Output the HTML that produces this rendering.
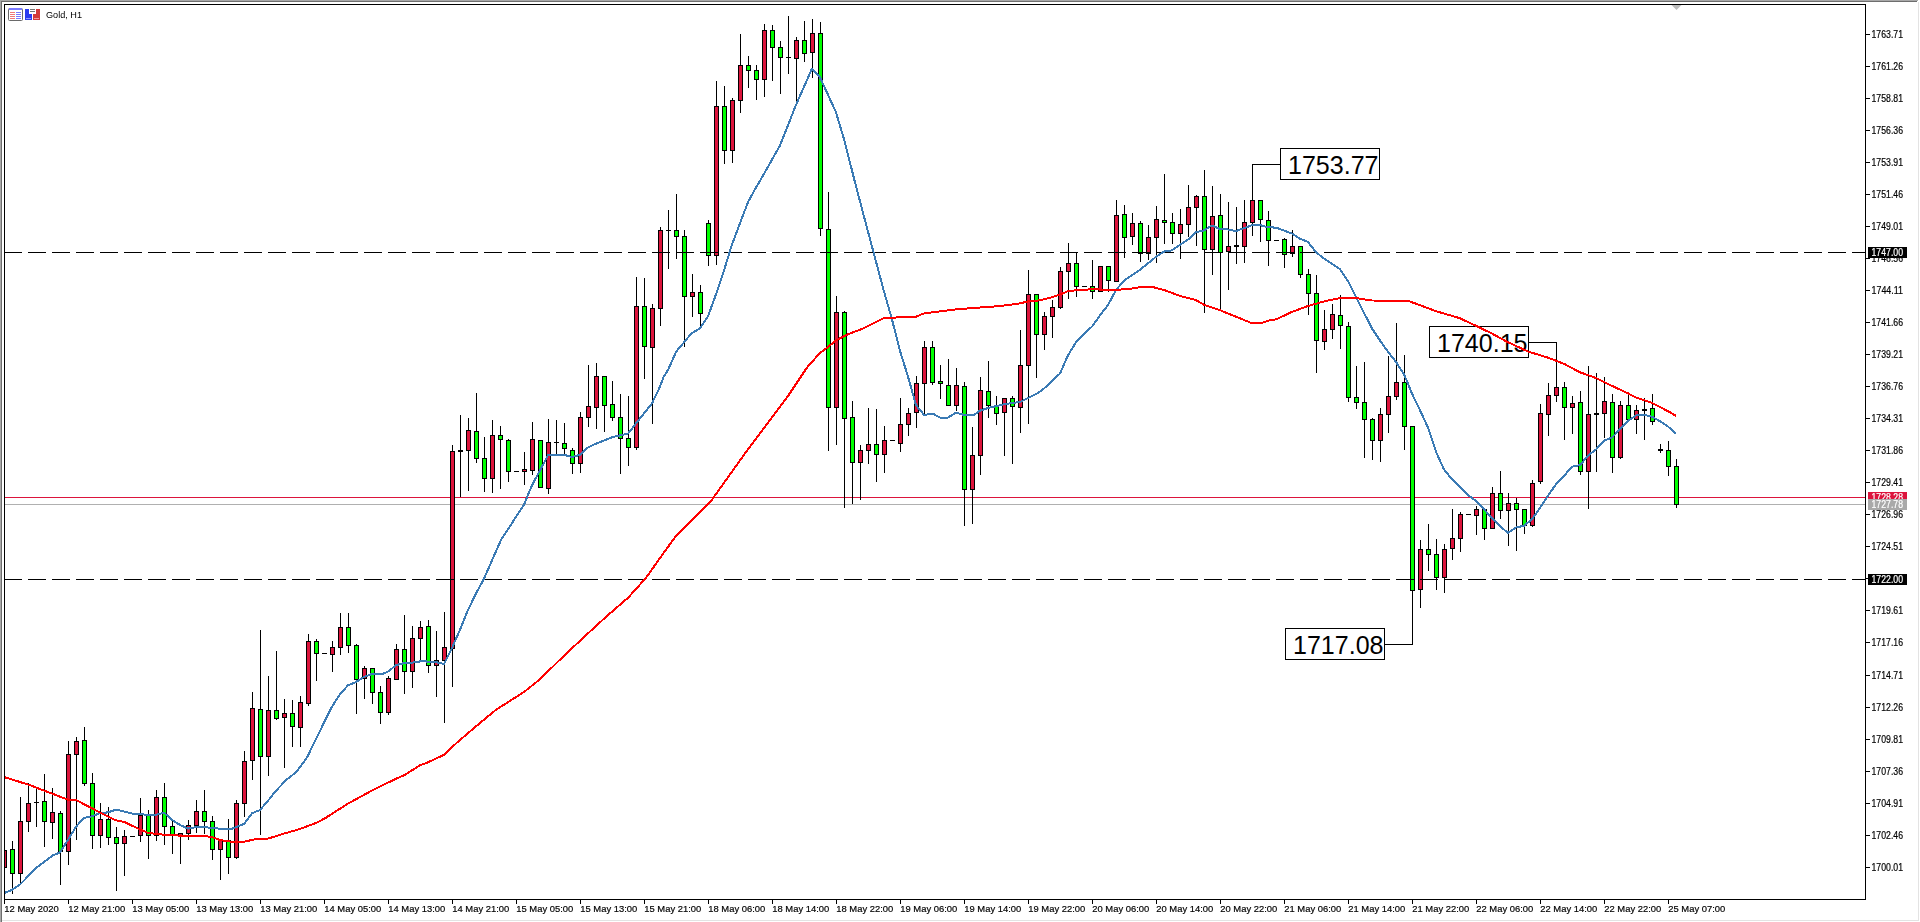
<!DOCTYPE html>
<html><head><meta charset="utf-8"><title>Gold, H1</title>
<style>html,body{margin:0;padding:0;background:#fff;overflow:hidden}body{width:1920px;height:922px;position:relative;font-family:"Liberation Sans",sans-serif}svg{position:absolute;left:0;top:0;display:block}text{font-family:"Liberation Sans",sans-serif}.ax{font-size:10px;fill:#000;stroke:#000;stroke-width:.2px}.big{font-size:26px;fill:#000}</style>
</head><body>
<svg width="1920" height="922" viewBox="0 0 1920 922">
<rect x="0" y="0" width="1920" height="922" fill="#fff"/>
<g shape-rendering="crispEdges">
<rect x="0" y="0" width="1918" height="1" fill="#a8a8a8"/>
<rect x="0" y="1" width="1917" height="1" fill="#6e6e6e"/>
<rect x="0" y="0" width="1" height="922" fill="#a8a8a8"/>
<rect x="1" y="1" width="1" height="921" fill="#6e6e6e"/>
<rect x="1918" y="2" width="1" height="919" fill="#e3e3e3"/>
<rect x="2" y="920" width="1917" height="1" fill="#e3e3e3"/>
<rect x="5" y="497" width="1860" height="1" fill="#dc143c"/>
<rect x="5" y="504" width="1860" height="1" fill="#b0b0b0"/>
</g>
<g shape-rendering="crispEdges" clip-path="url(#cp)">
<defs><clipPath id="cp"><rect x="5" y="5" width="1860" height="894"/></clipPath></defs>
<rect x="4" y="850" width="1" height="17" fill="#000"/>
<rect x="2" y="850" width="5" height="18" fill="#000"/>
<rect x="3" y="851" width="3" height="16" fill="#dc143c"/>
<rect x="12" y="841" width="1" height="53" fill="#000"/>
<rect x="10" y="849" width="5" height="25" fill="#000"/>
<rect x="11" y="850" width="3" height="23" fill="#00ff00"/>
<rect x="20" y="797" width="1" height="86" fill="#000"/>
<rect x="18" y="821" width="5" height="53" fill="#000"/>
<rect x="19" y="822" width="3" height="51" fill="#dc143c"/>
<rect x="28" y="783" width="1" height="49" fill="#000"/>
<rect x="26" y="803" width="5" height="19" fill="#000"/>
<rect x="27" y="804" width="3" height="17" fill="#dc143c"/>
<rect x="36" y="789" width="1" height="38" fill="#000"/>
<rect x="34" y="802" width="5" height="1" fill="#000"/>
<rect x="44" y="774" width="1" height="73" fill="#000"/>
<rect x="42" y="801" width="5" height="21" fill="#000"/>
<rect x="43" y="802" width="3" height="19" fill="#00ff00"/>
<rect x="52" y="788" width="1" height="51" fill="#000"/>
<rect x="50" y="812" width="5" height="11" fill="#000"/>
<rect x="51" y="813" width="3" height="9" fill="#dc143c"/>
<rect x="60" y="811" width="1" height="74" fill="#000"/>
<rect x="58" y="813" width="5" height="39" fill="#000"/>
<rect x="59" y="814" width="3" height="37" fill="#00ff00"/>
<rect x="68" y="741" width="1" height="124" fill="#000"/>
<rect x="66" y="754" width="5" height="98" fill="#000"/>
<rect x="67" y="755" width="3" height="96" fill="#dc143c"/>
<rect x="76" y="737" width="1" height="103" fill="#000"/>
<rect x="74" y="741" width="5" height="14" fill="#000"/>
<rect x="75" y="742" width="3" height="12" fill="#dc143c"/>
<rect x="84" y="727" width="1" height="59" fill="#000"/>
<rect x="82" y="740" width="5" height="44" fill="#000"/>
<rect x="83" y="741" width="3" height="42" fill="#00ff00"/>
<rect x="92" y="773" width="1" height="76" fill="#000"/>
<rect x="90" y="783" width="5" height="53" fill="#000"/>
<rect x="91" y="784" width="3" height="51" fill="#00ff00"/>
<rect x="100" y="803" width="1" height="45" fill="#000"/>
<rect x="98" y="819" width="5" height="17" fill="#000"/>
<rect x="99" y="820" width="3" height="15" fill="#dc143c"/>
<rect x="108" y="807" width="1" height="38" fill="#000"/>
<rect x="106" y="819" width="5" height="19" fill="#000"/>
<rect x="107" y="820" width="3" height="17" fill="#00ff00"/>
<rect x="116" y="827" width="1" height="64" fill="#000"/>
<rect x="114" y="837" width="5" height="7" fill="#000"/>
<rect x="115" y="838" width="3" height="5" fill="#00ff00"/>
<rect x="124" y="830" width="1" height="46" fill="#000"/>
<rect x="122" y="836" width="5" height="8" fill="#000"/>
<rect x="123" y="837" width="3" height="6" fill="#dc143c"/>
<rect x="130" y="836" width="5" height="1" fill="#000"/>
<rect x="140" y="798" width="1" height="44" fill="#000"/>
<rect x="138" y="815" width="5" height="21" fill="#000"/>
<rect x="139" y="816" width="3" height="19" fill="#dc143c"/>
<rect x="148" y="810" width="1" height="49" fill="#000"/>
<rect x="146" y="815" width="5" height="21" fill="#000"/>
<rect x="147" y="816" width="3" height="19" fill="#00ff00"/>
<rect x="156" y="790" width="1" height="51" fill="#000"/>
<rect x="154" y="797" width="5" height="39" fill="#000"/>
<rect x="155" y="798" width="3" height="37" fill="#dc143c"/>
<rect x="164" y="783" width="1" height="62" fill="#000"/>
<rect x="162" y="797" width="5" height="30" fill="#000"/>
<rect x="163" y="798" width="3" height="28" fill="#00ff00"/>
<rect x="172" y="820" width="1" height="34" fill="#000"/>
<rect x="170" y="826" width="5" height="10" fill="#000"/>
<rect x="171" y="827" width="3" height="8" fill="#00ff00"/>
<rect x="180" y="833" width="1" height="31" fill="#000"/>
<rect x="178" y="833" width="5" height="4" fill="#000"/>
<rect x="179" y="834" width="3" height="2" fill="#dc143c"/>
<rect x="188" y="820" width="1" height="20" fill="#000"/>
<rect x="186" y="825" width="5" height="9" fill="#000"/>
<rect x="187" y="826" width="3" height="7" fill="#dc143c"/>
<rect x="196" y="800" width="1" height="33" fill="#000"/>
<rect x="194" y="811" width="5" height="15" fill="#000"/>
<rect x="195" y="812" width="3" height="13" fill="#dc143c"/>
<rect x="204" y="790" width="1" height="44" fill="#000"/>
<rect x="202" y="811" width="5" height="11" fill="#000"/>
<rect x="203" y="812" width="3" height="9" fill="#00ff00"/>
<rect x="212" y="816" width="1" height="44" fill="#000"/>
<rect x="210" y="821" width="5" height="29" fill="#000"/>
<rect x="211" y="822" width="3" height="27" fill="#00ff00"/>
<rect x="220" y="839" width="1" height="41" fill="#000"/>
<rect x="218" y="839" width="5" height="11" fill="#000"/>
<rect x="219" y="840" width="3" height="9" fill="#dc143c"/>
<rect x="228" y="819" width="1" height="55" fill="#000"/>
<rect x="226" y="840" width="5" height="18" fill="#000"/>
<rect x="227" y="841" width="3" height="16" fill="#00ff00"/>
<rect x="236" y="800" width="1" height="59" fill="#000"/>
<rect x="234" y="803" width="5" height="55" fill="#000"/>
<rect x="235" y="804" width="3" height="53" fill="#dc143c"/>
<rect x="244" y="751" width="1" height="66" fill="#000"/>
<rect x="242" y="761" width="5" height="43" fill="#000"/>
<rect x="243" y="762" width="3" height="41" fill="#dc143c"/>
<rect x="252" y="692" width="1" height="88" fill="#000"/>
<rect x="250" y="708" width="5" height="53" fill="#000"/>
<rect x="251" y="709" width="3" height="51" fill="#dc143c"/>
<rect x="260" y="630" width="1" height="205" fill="#000"/>
<rect x="258" y="709" width="5" height="48" fill="#000"/>
<rect x="259" y="710" width="3" height="46" fill="#00ff00"/>
<rect x="268" y="676" width="1" height="100" fill="#000"/>
<rect x="266" y="710" width="5" height="47" fill="#000"/>
<rect x="267" y="711" width="3" height="45" fill="#dc143c"/>
<rect x="276" y="651" width="1" height="69" fill="#000"/>
<rect x="274" y="710" width="5" height="9" fill="#000"/>
<rect x="275" y="711" width="3" height="7" fill="#00ff00"/>
<rect x="284" y="699" width="1" height="69" fill="#000"/>
<rect x="282" y="713" width="5" height="5" fill="#000"/>
<rect x="283" y="714" width="3" height="3" fill="#dc143c"/>
<rect x="292" y="700" width="1" height="47" fill="#000"/>
<rect x="290" y="713" width="5" height="14" fill="#000"/>
<rect x="291" y="714" width="3" height="12" fill="#00ff00"/>
<rect x="300" y="696" width="1" height="51" fill="#000"/>
<rect x="298" y="702" width="5" height="26" fill="#000"/>
<rect x="299" y="703" width="3" height="24" fill="#dc143c"/>
<rect x="308" y="634" width="1" height="72" fill="#000"/>
<rect x="306" y="641" width="5" height="63" fill="#000"/>
<rect x="307" y="642" width="3" height="61" fill="#dc143c"/>
<rect x="316" y="639" width="1" height="42" fill="#000"/>
<rect x="314" y="641" width="5" height="13" fill="#000"/>
<rect x="315" y="642" width="3" height="11" fill="#00ff00"/>
<rect x="322" y="653" width="5" height="1" fill="#000"/>
<rect x="332" y="641" width="1" height="31" fill="#000"/>
<rect x="330" y="647" width="5" height="8" fill="#000"/>
<rect x="331" y="648" width="3" height="6" fill="#dc143c"/>
<rect x="340" y="613" width="1" height="42" fill="#000"/>
<rect x="338" y="627" width="5" height="21" fill="#000"/>
<rect x="339" y="628" width="3" height="19" fill="#dc143c"/>
<rect x="348" y="613" width="1" height="40" fill="#000"/>
<rect x="346" y="627" width="5" height="19" fill="#000"/>
<rect x="347" y="628" width="3" height="17" fill="#00ff00"/>
<rect x="356" y="644" width="1" height="70" fill="#000"/>
<rect x="354" y="645" width="5" height="35" fill="#000"/>
<rect x="355" y="646" width="3" height="33" fill="#00ff00"/>
<rect x="364" y="666" width="1" height="33" fill="#000"/>
<rect x="362" y="668" width="5" height="11" fill="#000"/>
<rect x="363" y="669" width="3" height="9" fill="#dc143c"/>
<rect x="372" y="668" width="1" height="36" fill="#000"/>
<rect x="370" y="668" width="5" height="25" fill="#000"/>
<rect x="371" y="669" width="3" height="23" fill="#00ff00"/>
<rect x="380" y="686" width="1" height="38" fill="#000"/>
<rect x="378" y="692" width="5" height="21" fill="#000"/>
<rect x="379" y="693" width="3" height="19" fill="#00ff00"/>
<rect x="388" y="676" width="1" height="39" fill="#000"/>
<rect x="386" y="678" width="5" height="35" fill="#000"/>
<rect x="387" y="679" width="3" height="33" fill="#dc143c"/>
<rect x="396" y="644" width="1" height="35" fill="#000"/>
<rect x="394" y="649" width="5" height="31" fill="#000"/>
<rect x="395" y="650" width="3" height="29" fill="#dc143c"/>
<rect x="404" y="615" width="1" height="79" fill="#000"/>
<rect x="402" y="649" width="5" height="23" fill="#000"/>
<rect x="403" y="650" width="3" height="21" fill="#00ff00"/>
<rect x="412" y="626" width="1" height="62" fill="#000"/>
<rect x="410" y="638" width="5" height="34" fill="#000"/>
<rect x="411" y="639" width="3" height="32" fill="#dc143c"/>
<rect x="420" y="621" width="1" height="39" fill="#000"/>
<rect x="418" y="627" width="5" height="12" fill="#000"/>
<rect x="419" y="628" width="3" height="10" fill="#dc143c"/>
<rect x="428" y="620" width="1" height="53" fill="#000"/>
<rect x="426" y="626" width="5" height="40" fill="#000"/>
<rect x="427" y="627" width="3" height="38" fill="#00ff00"/>
<rect x="436" y="631" width="1" height="66" fill="#000"/>
<rect x="434" y="660" width="5" height="6" fill="#000"/>
<rect x="435" y="661" width="3" height="4" fill="#dc143c"/>
<rect x="444" y="612" width="1" height="111" fill="#000"/>
<rect x="442" y="647" width="5" height="14" fill="#000"/>
<rect x="443" y="648" width="3" height="12" fill="#dc143c"/>
<rect x="452" y="445" width="1" height="242" fill="#000"/>
<rect x="450" y="451" width="5" height="198" fill="#000"/>
<rect x="451" y="452" width="3" height="196" fill="#dc143c"/>
<rect x="460" y="415" width="1" height="82" fill="#000"/>
<rect x="458" y="450" width="5" height="2" fill="#000"/>
<rect x="468" y="418" width="1" height="73" fill="#000"/>
<rect x="466" y="430" width="5" height="21" fill="#000"/>
<rect x="467" y="431" width="3" height="19" fill="#dc143c"/>
<rect x="476" y="393" width="1" height="70" fill="#000"/>
<rect x="474" y="431" width="5" height="28" fill="#000"/>
<rect x="475" y="432" width="3" height="26" fill="#00ff00"/>
<rect x="484" y="437" width="1" height="55" fill="#000"/>
<rect x="482" y="458" width="5" height="21" fill="#000"/>
<rect x="483" y="459" width="3" height="19" fill="#00ff00"/>
<rect x="492" y="420" width="1" height="73" fill="#000"/>
<rect x="490" y="435" width="5" height="44" fill="#000"/>
<rect x="491" y="436" width="3" height="42" fill="#dc143c"/>
<rect x="500" y="426" width="1" height="63" fill="#000"/>
<rect x="498" y="435" width="5" height="5" fill="#000"/>
<rect x="499" y="436" width="3" height="3" fill="#00ff00"/>
<rect x="508" y="439" width="1" height="43" fill="#000"/>
<rect x="506" y="440" width="5" height="32" fill="#000"/>
<rect x="507" y="441" width="3" height="30" fill="#00ff00"/>
<rect x="514" y="471" width="5" height="1" fill="#000"/>
<rect x="524" y="452" width="1" height="33" fill="#000"/>
<rect x="522" y="469" width="5" height="3" fill="#000"/>
<rect x="523" y="470" width="3" height="1" fill="#dc143c"/>
<rect x="532" y="422" width="1" height="53" fill="#000"/>
<rect x="530" y="439" width="5" height="32" fill="#000"/>
<rect x="531" y="440" width="3" height="30" fill="#dc143c"/>
<rect x="540" y="440" width="1" height="48" fill="#000"/>
<rect x="538" y="440" width="5" height="48" fill="#000"/>
<rect x="539" y="441" width="3" height="46" fill="#00ff00"/>
<rect x="548" y="419" width="1" height="75" fill="#000"/>
<rect x="546" y="442" width="5" height="47" fill="#000"/>
<rect x="547" y="443" width="3" height="45" fill="#dc143c"/>
<rect x="556" y="420" width="1" height="35" fill="#000"/>
<rect x="554" y="442" width="5" height="1" fill="#000"/>
<rect x="564" y="423" width="1" height="31" fill="#000"/>
<rect x="562" y="443" width="5" height="6" fill="#000"/>
<rect x="563" y="444" width="3" height="4" fill="#00ff00"/>
<rect x="572" y="448" width="1" height="26" fill="#000"/>
<rect x="570" y="450" width="5" height="14" fill="#000"/>
<rect x="571" y="451" width="3" height="12" fill="#00ff00"/>
<rect x="580" y="412" width="1" height="61" fill="#000"/>
<rect x="578" y="417" width="5" height="47" fill="#000"/>
<rect x="579" y="418" width="3" height="45" fill="#dc143c"/>
<rect x="588" y="365" width="1" height="62" fill="#000"/>
<rect x="586" y="406" width="5" height="12" fill="#000"/>
<rect x="587" y="407" width="3" height="10" fill="#dc143c"/>
<rect x="596" y="363" width="1" height="66" fill="#000"/>
<rect x="594" y="376" width="5" height="32" fill="#000"/>
<rect x="595" y="377" width="3" height="30" fill="#dc143c"/>
<rect x="604" y="376" width="1" height="56" fill="#000"/>
<rect x="602" y="376" width="5" height="30" fill="#000"/>
<rect x="603" y="377" width="3" height="28" fill="#00ff00"/>
<rect x="612" y="381" width="1" height="40" fill="#000"/>
<rect x="610" y="404" width="5" height="14" fill="#000"/>
<rect x="611" y="405" width="3" height="12" fill="#00ff00"/>
<rect x="620" y="394" width="1" height="80" fill="#000"/>
<rect x="618" y="417" width="5" height="22" fill="#000"/>
<rect x="619" y="418" width="3" height="20" fill="#00ff00"/>
<rect x="628" y="396" width="1" height="70" fill="#000"/>
<rect x="626" y="438" width="5" height="10" fill="#000"/>
<rect x="627" y="439" width="3" height="8" fill="#00ff00"/>
<rect x="636" y="277" width="1" height="173" fill="#000"/>
<rect x="634" y="306" width="5" height="142" fill="#000"/>
<rect x="635" y="307" width="3" height="140" fill="#dc143c"/>
<rect x="644" y="278" width="1" height="101" fill="#000"/>
<rect x="642" y="306" width="5" height="41" fill="#000"/>
<rect x="643" y="307" width="3" height="39" fill="#00ff00"/>
<rect x="652" y="304" width="1" height="120" fill="#000"/>
<rect x="650" y="308" width="5" height="40" fill="#000"/>
<rect x="651" y="309" width="3" height="38" fill="#dc143c"/>
<rect x="660" y="227" width="1" height="99" fill="#000"/>
<rect x="658" y="230" width="5" height="79" fill="#000"/>
<rect x="659" y="231" width="3" height="77" fill="#dc143c"/>
<rect x="668" y="210" width="1" height="59" fill="#000"/>
<rect x="666" y="230" width="5" height="1" fill="#000"/>
<rect x="676" y="194" width="1" height="65" fill="#000"/>
<rect x="674" y="230" width="5" height="7" fill="#000"/>
<rect x="675" y="231" width="3" height="5" fill="#00ff00"/>
<rect x="684" y="230" width="1" height="117" fill="#000"/>
<rect x="682" y="236" width="5" height="61" fill="#000"/>
<rect x="683" y="237" width="3" height="59" fill="#00ff00"/>
<rect x="692" y="274" width="1" height="43" fill="#000"/>
<rect x="690" y="292" width="5" height="5" fill="#000"/>
<rect x="691" y="293" width="3" height="3" fill="#dc143c"/>
<rect x="700" y="285" width="1" height="41" fill="#000"/>
<rect x="698" y="292" width="5" height="22" fill="#000"/>
<rect x="699" y="293" width="3" height="20" fill="#00ff00"/>
<rect x="708" y="220" width="1" height="46" fill="#000"/>
<rect x="706" y="223" width="5" height="33" fill="#000"/>
<rect x="707" y="224" width="3" height="31" fill="#00ff00"/>
<rect x="716" y="81" width="1" height="184" fill="#000"/>
<rect x="714" y="106" width="5" height="150" fill="#000"/>
<rect x="715" y="107" width="3" height="148" fill="#dc143c"/>
<rect x="724" y="86" width="1" height="78" fill="#000"/>
<rect x="722" y="106" width="5" height="45" fill="#000"/>
<rect x="723" y="107" width="3" height="43" fill="#00ff00"/>
<rect x="732" y="98" width="1" height="65" fill="#000"/>
<rect x="730" y="100" width="5" height="51" fill="#000"/>
<rect x="731" y="101" width="3" height="49" fill="#dc143c"/>
<rect x="740" y="34" width="1" height="79" fill="#000"/>
<rect x="738" y="65" width="5" height="36" fill="#000"/>
<rect x="739" y="66" width="3" height="34" fill="#dc143c"/>
<rect x="748" y="56" width="1" height="32" fill="#000"/>
<rect x="746" y="65" width="5" height="6" fill="#000"/>
<rect x="747" y="66" width="3" height="4" fill="#00ff00"/>
<rect x="756" y="65" width="1" height="35" fill="#000"/>
<rect x="754" y="70" width="5" height="10" fill="#000"/>
<rect x="755" y="71" width="3" height="8" fill="#00ff00"/>
<rect x="764" y="24" width="1" height="73" fill="#000"/>
<rect x="762" y="30" width="5" height="50" fill="#000"/>
<rect x="763" y="31" width="3" height="48" fill="#dc143c"/>
<rect x="772" y="25" width="1" height="56" fill="#000"/>
<rect x="770" y="30" width="5" height="18" fill="#000"/>
<rect x="771" y="31" width="3" height="16" fill="#00ff00"/>
<rect x="780" y="41" width="1" height="53" fill="#000"/>
<rect x="778" y="47" width="5" height="11" fill="#000"/>
<rect x="779" y="48" width="3" height="9" fill="#00ff00"/>
<rect x="788" y="16" width="1" height="58" fill="#000"/>
<rect x="786" y="57" width="5" height="1" fill="#000"/>
<rect x="796" y="37" width="1" height="66" fill="#000"/>
<rect x="794" y="40" width="5" height="19" fill="#000"/>
<rect x="795" y="41" width="3" height="17" fill="#dc143c"/>
<rect x="804" y="21" width="1" height="41" fill="#000"/>
<rect x="802" y="40" width="5" height="14" fill="#000"/>
<rect x="803" y="41" width="3" height="12" fill="#00ff00"/>
<rect x="812" y="19" width="1" height="59" fill="#000"/>
<rect x="810" y="33" width="5" height="20" fill="#000"/>
<rect x="811" y="34" width="3" height="18" fill="#dc143c"/>
<rect x="820" y="22" width="1" height="214" fill="#000"/>
<rect x="818" y="33" width="5" height="196" fill="#000"/>
<rect x="819" y="34" width="3" height="194" fill="#00ff00"/>
<rect x="828" y="192" width="1" height="259" fill="#000"/>
<rect x="826" y="229" width="5" height="179" fill="#000"/>
<rect x="827" y="230" width="3" height="177" fill="#00ff00"/>
<rect x="836" y="296" width="1" height="149" fill="#000"/>
<rect x="834" y="312" width="5" height="96" fill="#000"/>
<rect x="835" y="313" width="3" height="94" fill="#dc143c"/>
<rect x="844" y="311" width="1" height="197" fill="#000"/>
<rect x="842" y="312" width="5" height="107" fill="#000"/>
<rect x="843" y="313" width="3" height="105" fill="#00ff00"/>
<rect x="852" y="401" width="1" height="103" fill="#000"/>
<rect x="850" y="417" width="5" height="46" fill="#000"/>
<rect x="851" y="418" width="3" height="44" fill="#00ff00"/>
<rect x="860" y="445" width="1" height="55" fill="#000"/>
<rect x="858" y="450" width="5" height="13" fill="#000"/>
<rect x="859" y="451" width="3" height="11" fill="#dc143c"/>
<rect x="868" y="408" width="1" height="56" fill="#000"/>
<rect x="866" y="444" width="5" height="7" fill="#000"/>
<rect x="867" y="445" width="3" height="5" fill="#dc143c"/>
<rect x="876" y="409" width="1" height="73" fill="#000"/>
<rect x="874" y="444" width="5" height="11" fill="#000"/>
<rect x="875" y="445" width="3" height="9" fill="#00ff00"/>
<rect x="884" y="426" width="1" height="47" fill="#000"/>
<rect x="882" y="440" width="5" height="15" fill="#000"/>
<rect x="883" y="441" width="3" height="13" fill="#dc143c"/>
<rect x="890" y="440" width="5" height="1" fill="#000"/>
<rect x="900" y="398" width="1" height="54" fill="#000"/>
<rect x="898" y="424" width="5" height="20" fill="#000"/>
<rect x="899" y="425" width="3" height="18" fill="#dc143c"/>
<rect x="908" y="408" width="1" height="28" fill="#000"/>
<rect x="906" y="413" width="5" height="12" fill="#000"/>
<rect x="907" y="414" width="3" height="10" fill="#dc143c"/>
<rect x="916" y="376" width="1" height="52" fill="#000"/>
<rect x="914" y="383" width="5" height="30" fill="#000"/>
<rect x="915" y="384" width="3" height="28" fill="#dc143c"/>
<rect x="924" y="341" width="1" height="73" fill="#000"/>
<rect x="922" y="347" width="5" height="37" fill="#000"/>
<rect x="923" y="348" width="3" height="35" fill="#dc143c"/>
<rect x="932" y="341" width="1" height="44" fill="#000"/>
<rect x="930" y="347" width="5" height="36" fill="#000"/>
<rect x="931" y="348" width="3" height="34" fill="#00ff00"/>
<rect x="940" y="365" width="1" height="34" fill="#000"/>
<rect x="938" y="381" width="5" height="3" fill="#000"/>
<rect x="939" y="382" width="3" height="1" fill="#00ff00"/>
<rect x="948" y="359" width="1" height="47" fill="#000"/>
<rect x="946" y="385" width="5" height="21" fill="#000"/>
<rect x="947" y="386" width="3" height="19" fill="#00ff00"/>
<rect x="956" y="368" width="1" height="43" fill="#000"/>
<rect x="954" y="385" width="5" height="21" fill="#000"/>
<rect x="955" y="386" width="3" height="19" fill="#dc143c"/>
<rect x="964" y="382" width="1" height="144" fill="#000"/>
<rect x="962" y="386" width="5" height="104" fill="#000"/>
<rect x="963" y="387" width="3" height="102" fill="#00ff00"/>
<rect x="972" y="427" width="1" height="97" fill="#000"/>
<rect x="970" y="455" width="5" height="35" fill="#000"/>
<rect x="971" y="456" width="3" height="33" fill="#dc143c"/>
<rect x="980" y="377" width="1" height="98" fill="#000"/>
<rect x="978" y="390" width="5" height="66" fill="#000"/>
<rect x="979" y="391" width="3" height="64" fill="#dc143c"/>
<rect x="988" y="361" width="1" height="57" fill="#000"/>
<rect x="986" y="391" width="5" height="15" fill="#000"/>
<rect x="987" y="392" width="3" height="13" fill="#00ff00"/>
<rect x="996" y="396" width="1" height="29" fill="#000"/>
<rect x="994" y="405" width="5" height="9" fill="#000"/>
<rect x="995" y="406" width="3" height="7" fill="#00ff00"/>
<rect x="1004" y="398" width="1" height="58" fill="#000"/>
<rect x="1002" y="398" width="5" height="15" fill="#000"/>
<rect x="1003" y="399" width="3" height="13" fill="#dc143c"/>
<rect x="1012" y="396" width="1" height="68" fill="#000"/>
<rect x="1010" y="398" width="5" height="9" fill="#000"/>
<rect x="1011" y="399" width="3" height="7" fill="#00ff00"/>
<rect x="1020" y="330" width="1" height="103" fill="#000"/>
<rect x="1018" y="365" width="5" height="43" fill="#000"/>
<rect x="1019" y="366" width="3" height="41" fill="#dc143c"/>
<rect x="1028" y="270" width="1" height="154" fill="#000"/>
<rect x="1026" y="294" width="5" height="72" fill="#000"/>
<rect x="1027" y="295" width="3" height="70" fill="#dc143c"/>
<rect x="1036" y="294" width="1" height="84" fill="#000"/>
<rect x="1034" y="294" width="5" height="41" fill="#000"/>
<rect x="1035" y="295" width="3" height="39" fill="#00ff00"/>
<rect x="1044" y="312" width="1" height="38" fill="#000"/>
<rect x="1042" y="316" width="5" height="19" fill="#000"/>
<rect x="1043" y="317" width="3" height="17" fill="#dc143c"/>
<rect x="1052" y="300" width="1" height="38" fill="#000"/>
<rect x="1050" y="307" width="5" height="10" fill="#000"/>
<rect x="1051" y="308" width="3" height="8" fill="#dc143c"/>
<rect x="1060" y="267" width="1" height="42" fill="#000"/>
<rect x="1058" y="271" width="5" height="37" fill="#000"/>
<rect x="1059" y="272" width="3" height="35" fill="#dc143c"/>
<rect x="1068" y="243" width="1" height="56" fill="#000"/>
<rect x="1066" y="263" width="5" height="9" fill="#000"/>
<rect x="1067" y="264" width="3" height="7" fill="#dc143c"/>
<rect x="1076" y="252" width="1" height="45" fill="#000"/>
<rect x="1074" y="263" width="5" height="24" fill="#000"/>
<rect x="1075" y="264" width="3" height="22" fill="#00ff00"/>
<rect x="1082" y="286" width="5" height="1" fill="#000"/>
<rect x="1092" y="260" width="1" height="39" fill="#000"/>
<rect x="1090" y="286" width="5" height="6" fill="#000"/>
<rect x="1091" y="287" width="3" height="4" fill="#00ff00"/>
<rect x="1100" y="266" width="1" height="26" fill="#000"/>
<rect x="1098" y="266" width="5" height="26" fill="#000"/>
<rect x="1099" y="267" width="3" height="24" fill="#dc143c"/>
<rect x="1108" y="266" width="1" height="26" fill="#000"/>
<rect x="1106" y="266" width="5" height="15" fill="#000"/>
<rect x="1107" y="267" width="3" height="13" fill="#00ff00"/>
<rect x="1116" y="200" width="1" height="82" fill="#000"/>
<rect x="1114" y="215" width="5" height="67" fill="#000"/>
<rect x="1115" y="216" width="3" height="65" fill="#dc143c"/>
<rect x="1124" y="205" width="1" height="53" fill="#000"/>
<rect x="1122" y="214" width="5" height="24" fill="#000"/>
<rect x="1123" y="215" width="3" height="22" fill="#00ff00"/>
<rect x="1132" y="213" width="1" height="32" fill="#000"/>
<rect x="1130" y="223" width="5" height="14" fill="#000"/>
<rect x="1131" y="224" width="3" height="12" fill="#dc143c"/>
<rect x="1140" y="221" width="1" height="41" fill="#000"/>
<rect x="1138" y="223" width="5" height="31" fill="#000"/>
<rect x="1139" y="224" width="3" height="29" fill="#00ff00"/>
<rect x="1148" y="225" width="1" height="35" fill="#000"/>
<rect x="1146" y="237" width="5" height="17" fill="#000"/>
<rect x="1147" y="238" width="3" height="15" fill="#dc143c"/>
<rect x="1156" y="206" width="1" height="57" fill="#000"/>
<rect x="1154" y="219" width="5" height="19" fill="#000"/>
<rect x="1155" y="220" width="3" height="17" fill="#dc143c"/>
<rect x="1164" y="174" width="1" height="70" fill="#000"/>
<rect x="1162" y="220" width="5" height="3" fill="#000"/>
<rect x="1163" y="221" width="3" height="1" fill="#00ff00"/>
<rect x="1172" y="213" width="1" height="31" fill="#000"/>
<rect x="1170" y="222" width="5" height="12" fill="#000"/>
<rect x="1171" y="223" width="3" height="10" fill="#00ff00"/>
<rect x="1180" y="209" width="1" height="50" fill="#000"/>
<rect x="1178" y="224" width="5" height="10" fill="#000"/>
<rect x="1179" y="225" width="3" height="8" fill="#dc143c"/>
<rect x="1188" y="185" width="1" height="52" fill="#000"/>
<rect x="1186" y="207" width="5" height="18" fill="#000"/>
<rect x="1187" y="208" width="3" height="16" fill="#dc143c"/>
<rect x="1196" y="195" width="1" height="51" fill="#000"/>
<rect x="1194" y="196" width="5" height="12" fill="#000"/>
<rect x="1195" y="197" width="3" height="10" fill="#dc143c"/>
<rect x="1204" y="170" width="1" height="143" fill="#000"/>
<rect x="1202" y="196" width="5" height="54" fill="#000"/>
<rect x="1203" y="197" width="3" height="52" fill="#00ff00"/>
<rect x="1212" y="186" width="1" height="89" fill="#000"/>
<rect x="1210" y="216" width="5" height="34" fill="#000"/>
<rect x="1211" y="217" width="3" height="32" fill="#dc143c"/>
<rect x="1220" y="194" width="1" height="115" fill="#000"/>
<rect x="1218" y="215" width="5" height="38" fill="#000"/>
<rect x="1219" y="216" width="3" height="36" fill="#00ff00"/>
<rect x="1228" y="202" width="1" height="88" fill="#000"/>
<rect x="1226" y="246" width="5" height="6" fill="#000"/>
<rect x="1227" y="247" width="3" height="4" fill="#dc143c"/>
<rect x="1236" y="207" width="1" height="57" fill="#000"/>
<rect x="1234" y="245" width="5" height="2" fill="#000"/>
<rect x="1244" y="200" width="1" height="63" fill="#000"/>
<rect x="1242" y="222" width="5" height="25" fill="#000"/>
<rect x="1243" y="223" width="3" height="23" fill="#dc143c"/>
<rect x="1252" y="164" width="1" height="72" fill="#000"/>
<rect x="1250" y="200" width="5" height="23" fill="#000"/>
<rect x="1251" y="201" width="3" height="21" fill="#dc143c"/>
<rect x="1260" y="200" width="1" height="42" fill="#000"/>
<rect x="1258" y="200" width="5" height="20" fill="#000"/>
<rect x="1259" y="201" width="3" height="18" fill="#00ff00"/>
<rect x="1268" y="211" width="1" height="55" fill="#000"/>
<rect x="1266" y="220" width="5" height="21" fill="#000"/>
<rect x="1267" y="221" width="3" height="19" fill="#00ff00"/>
<rect x="1274" y="240" width="5" height="1" fill="#000"/>
<rect x="1284" y="238" width="1" height="30" fill="#000"/>
<rect x="1282" y="239" width="5" height="16" fill="#000"/>
<rect x="1283" y="240" width="3" height="14" fill="#00ff00"/>
<rect x="1292" y="230" width="1" height="27" fill="#000"/>
<rect x="1290" y="246" width="5" height="8" fill="#000"/>
<rect x="1291" y="247" width="3" height="6" fill="#dc143c"/>
<rect x="1300" y="246" width="1" height="32" fill="#000"/>
<rect x="1298" y="246" width="5" height="29" fill="#000"/>
<rect x="1299" y="247" width="3" height="27" fill="#00ff00"/>
<rect x="1308" y="269" width="1" height="46" fill="#000"/>
<rect x="1306" y="274" width="5" height="20" fill="#000"/>
<rect x="1307" y="275" width="3" height="18" fill="#00ff00"/>
<rect x="1316" y="275" width="1" height="98" fill="#000"/>
<rect x="1314" y="293" width="5" height="48" fill="#000"/>
<rect x="1315" y="294" width="3" height="46" fill="#00ff00"/>
<rect x="1324" y="310" width="1" height="40" fill="#000"/>
<rect x="1322" y="329" width="5" height="13" fill="#000"/>
<rect x="1323" y="330" width="3" height="11" fill="#dc143c"/>
<rect x="1332" y="304" width="1" height="35" fill="#000"/>
<rect x="1330" y="314" width="5" height="16" fill="#000"/>
<rect x="1331" y="315" width="3" height="14" fill="#dc143c"/>
<rect x="1340" y="295" width="1" height="54" fill="#000"/>
<rect x="1338" y="315" width="5" height="11" fill="#000"/>
<rect x="1339" y="316" width="3" height="9" fill="#00ff00"/>
<rect x="1348" y="322" width="1" height="80" fill="#000"/>
<rect x="1346" y="326" width="5" height="72" fill="#000"/>
<rect x="1347" y="327" width="3" height="70" fill="#00ff00"/>
<rect x="1356" y="366" width="1" height="43" fill="#000"/>
<rect x="1354" y="397" width="5" height="6" fill="#000"/>
<rect x="1355" y="398" width="3" height="4" fill="#00ff00"/>
<rect x="1364" y="362" width="1" height="96" fill="#000"/>
<rect x="1362" y="402" width="5" height="18" fill="#000"/>
<rect x="1363" y="403" width="3" height="16" fill="#00ff00"/>
<rect x="1372" y="418" width="1" height="42" fill="#000"/>
<rect x="1370" y="419" width="5" height="22" fill="#000"/>
<rect x="1371" y="420" width="3" height="20" fill="#00ff00"/>
<rect x="1380" y="408" width="1" height="54" fill="#000"/>
<rect x="1378" y="414" width="5" height="27" fill="#000"/>
<rect x="1379" y="415" width="3" height="25" fill="#dc143c"/>
<rect x="1388" y="356" width="1" height="77" fill="#000"/>
<rect x="1386" y="396" width="5" height="19" fill="#000"/>
<rect x="1387" y="397" width="3" height="17" fill="#dc143c"/>
<rect x="1396" y="323" width="1" height="77" fill="#000"/>
<rect x="1394" y="382" width="5" height="15" fill="#000"/>
<rect x="1395" y="383" width="3" height="13" fill="#dc143c"/>
<rect x="1404" y="355" width="1" height="95" fill="#000"/>
<rect x="1402" y="382" width="5" height="45" fill="#000"/>
<rect x="1403" y="383" width="3" height="43" fill="#00ff00"/>
<rect x="1412" y="426" width="1" height="218" fill="#000"/>
<rect x="1410" y="426" width="5" height="165" fill="#000"/>
<rect x="1411" y="427" width="3" height="163" fill="#00ff00"/>
<rect x="1420" y="540" width="1" height="68" fill="#000"/>
<rect x="1418" y="549" width="5" height="41" fill="#000"/>
<rect x="1419" y="550" width="3" height="39" fill="#dc143c"/>
<rect x="1428" y="524" width="1" height="47" fill="#000"/>
<rect x="1426" y="549" width="5" height="6" fill="#000"/>
<rect x="1427" y="550" width="3" height="4" fill="#00ff00"/>
<rect x="1436" y="539" width="1" height="51" fill="#000"/>
<rect x="1434" y="554" width="5" height="24" fill="#000"/>
<rect x="1435" y="555" width="3" height="22" fill="#00ff00"/>
<rect x="1444" y="544" width="1" height="49" fill="#000"/>
<rect x="1442" y="549" width="5" height="29" fill="#000"/>
<rect x="1443" y="550" width="3" height="27" fill="#dc143c"/>
<rect x="1452" y="509" width="1" height="51" fill="#000"/>
<rect x="1450" y="538" width="5" height="11" fill="#000"/>
<rect x="1451" y="539" width="3" height="9" fill="#dc143c"/>
<rect x="1460" y="512" width="1" height="40" fill="#000"/>
<rect x="1458" y="514" width="5" height="25" fill="#000"/>
<rect x="1459" y="515" width="3" height="23" fill="#dc143c"/>
<rect x="1466" y="514" width="5" height="1" fill="#000"/>
<rect x="1476" y="506" width="1" height="29" fill="#000"/>
<rect x="1474" y="509" width="5" height="7" fill="#000"/>
<rect x="1475" y="510" width="3" height="5" fill="#dc143c"/>
<rect x="1484" y="508" width="1" height="32" fill="#000"/>
<rect x="1482" y="509" width="5" height="20" fill="#000"/>
<rect x="1483" y="510" width="3" height="18" fill="#00ff00"/>
<rect x="1492" y="487" width="1" height="42" fill="#000"/>
<rect x="1490" y="493" width="5" height="36" fill="#000"/>
<rect x="1491" y="494" width="3" height="34" fill="#dc143c"/>
<rect x="1500" y="471" width="1" height="48" fill="#000"/>
<rect x="1498" y="493" width="5" height="18" fill="#000"/>
<rect x="1499" y="494" width="3" height="16" fill="#00ff00"/>
<rect x="1508" y="493" width="1" height="53" fill="#000"/>
<rect x="1506" y="503" width="5" height="8" fill="#000"/>
<rect x="1507" y="504" width="3" height="6" fill="#dc143c"/>
<rect x="1516" y="498" width="1" height="53" fill="#000"/>
<rect x="1514" y="503" width="5" height="7" fill="#000"/>
<rect x="1515" y="504" width="3" height="5" fill="#00ff00"/>
<rect x="1524" y="509" width="1" height="25" fill="#000"/>
<rect x="1522" y="509" width="5" height="17" fill="#000"/>
<rect x="1523" y="510" width="3" height="15" fill="#00ff00"/>
<rect x="1532" y="480" width="1" height="47" fill="#000"/>
<rect x="1530" y="483" width="5" height="43" fill="#000"/>
<rect x="1531" y="484" width="3" height="41" fill="#dc143c"/>
<rect x="1540" y="404" width="1" height="80" fill="#000"/>
<rect x="1538" y="413" width="5" height="69" fill="#000"/>
<rect x="1539" y="414" width="3" height="67" fill="#dc143c"/>
<rect x="1548" y="383" width="1" height="53" fill="#000"/>
<rect x="1546" y="395" width="5" height="20" fill="#000"/>
<rect x="1547" y="396" width="3" height="18" fill="#dc143c"/>
<rect x="1556" y="342" width="1" height="60" fill="#000"/>
<rect x="1554" y="387" width="5" height="9" fill="#000"/>
<rect x="1555" y="388" width="3" height="7" fill="#dc143c"/>
<rect x="1564" y="382" width="1" height="58" fill="#000"/>
<rect x="1562" y="387" width="5" height="21" fill="#000"/>
<rect x="1563" y="388" width="3" height="19" fill="#00ff00"/>
<rect x="1572" y="396" width="1" height="38" fill="#000"/>
<rect x="1570" y="403" width="5" height="5" fill="#000"/>
<rect x="1571" y="404" width="3" height="3" fill="#dc143c"/>
<rect x="1580" y="391" width="1" height="84" fill="#000"/>
<rect x="1578" y="402" width="5" height="70" fill="#000"/>
<rect x="1579" y="403" width="3" height="68" fill="#00ff00"/>
<rect x="1588" y="366" width="1" height="143" fill="#000"/>
<rect x="1586" y="414" width="5" height="58" fill="#000"/>
<rect x="1587" y="415" width="3" height="56" fill="#dc143c"/>
<rect x="1596" y="373" width="1" height="99" fill="#000"/>
<rect x="1594" y="413" width="5" height="2" fill="#000"/>
<rect x="1604" y="377" width="1" height="61" fill="#000"/>
<rect x="1602" y="401" width="5" height="13" fill="#000"/>
<rect x="1603" y="402" width="3" height="11" fill="#dc143c"/>
<rect x="1612" y="394" width="1" height="79" fill="#000"/>
<rect x="1610" y="402" width="5" height="56" fill="#000"/>
<rect x="1611" y="403" width="3" height="54" fill="#00ff00"/>
<rect x="1620" y="401" width="1" height="58" fill="#000"/>
<rect x="1618" y="405" width="5" height="53" fill="#000"/>
<rect x="1619" y="406" width="3" height="51" fill="#dc143c"/>
<rect x="1628" y="394" width="1" height="26" fill="#000"/>
<rect x="1626" y="405" width="5" height="15" fill="#000"/>
<rect x="1627" y="406" width="3" height="13" fill="#00ff00"/>
<rect x="1636" y="405" width="1" height="29" fill="#000"/>
<rect x="1634" y="410" width="5" height="10" fill="#000"/>
<rect x="1635" y="411" width="3" height="8" fill="#dc143c"/>
<rect x="1644" y="398" width="1" height="42" fill="#000"/>
<rect x="1642" y="409" width="5" height="2" fill="#000"/>
<rect x="1652" y="394" width="1" height="31" fill="#000"/>
<rect x="1650" y="408" width="5" height="14" fill="#000"/>
<rect x="1651" y="409" width="3" height="12" fill="#00ff00"/>
<rect x="1660" y="444" width="1" height="9" fill="#000"/>
<rect x="1658" y="449" width="5" height="2" fill="#000"/>
<rect x="1668" y="441" width="1" height="35" fill="#000"/>
<rect x="1666" y="450" width="5" height="17" fill="#000"/>
<rect x="1667" y="451" width="3" height="15" fill="#00ff00"/>
<rect x="1676" y="459" width="1" height="49" fill="#000"/>
<rect x="1674" y="466" width="5" height="39" fill="#000"/>
<rect x="1675" y="467" width="3" height="37" fill="#00ff00"/>
</g>
<g shape-rendering="crispEdges">
<rect x="4" y="252" width="18" height="1" fill="#000"/>
<rect x="28" y="252" width="18" height="1" fill="#000"/>
<rect x="52" y="252" width="18" height="1" fill="#000"/>
<rect x="76" y="252" width="18" height="1" fill="#000"/>
<rect x="100" y="252" width="18" height="1" fill="#000"/>
<rect x="124" y="252" width="18" height="1" fill="#000"/>
<rect x="148" y="252" width="18" height="1" fill="#000"/>
<rect x="172" y="252" width="18" height="1" fill="#000"/>
<rect x="196" y="252" width="18" height="1" fill="#000"/>
<rect x="220" y="252" width="18" height="1" fill="#000"/>
<rect x="244" y="252" width="18" height="1" fill="#000"/>
<rect x="268" y="252" width="18" height="1" fill="#000"/>
<rect x="292" y="252" width="18" height="1" fill="#000"/>
<rect x="316" y="252" width="18" height="1" fill="#000"/>
<rect x="340" y="252" width="18" height="1" fill="#000"/>
<rect x="364" y="252" width="18" height="1" fill="#000"/>
<rect x="388" y="252" width="18" height="1" fill="#000"/>
<rect x="412" y="252" width="18" height="1" fill="#000"/>
<rect x="436" y="252" width="18" height="1" fill="#000"/>
<rect x="460" y="252" width="18" height="1" fill="#000"/>
<rect x="484" y="252" width="18" height="1" fill="#000"/>
<rect x="508" y="252" width="18" height="1" fill="#000"/>
<rect x="532" y="252" width="18" height="1" fill="#000"/>
<rect x="556" y="252" width="18" height="1" fill="#000"/>
<rect x="580" y="252" width="18" height="1" fill="#000"/>
<rect x="604" y="252" width="18" height="1" fill="#000"/>
<rect x="628" y="252" width="18" height="1" fill="#000"/>
<rect x="652" y="252" width="18" height="1" fill="#000"/>
<rect x="676" y="252" width="18" height="1" fill="#000"/>
<rect x="700" y="252" width="18" height="1" fill="#000"/>
<rect x="724" y="252" width="18" height="1" fill="#000"/>
<rect x="748" y="252" width="18" height="1" fill="#000"/>
<rect x="772" y="252" width="18" height="1" fill="#000"/>
<rect x="796" y="252" width="18" height="1" fill="#000"/>
<rect x="820" y="252" width="18" height="1" fill="#000"/>
<rect x="844" y="252" width="18" height="1" fill="#000"/>
<rect x="868" y="252" width="18" height="1" fill="#000"/>
<rect x="892" y="252" width="18" height="1" fill="#000"/>
<rect x="916" y="252" width="18" height="1" fill="#000"/>
<rect x="940" y="252" width="18" height="1" fill="#000"/>
<rect x="964" y="252" width="18" height="1" fill="#000"/>
<rect x="988" y="252" width="18" height="1" fill="#000"/>
<rect x="1012" y="252" width="18" height="1" fill="#000"/>
<rect x="1036" y="252" width="18" height="1" fill="#000"/>
<rect x="1060" y="252" width="18" height="1" fill="#000"/>
<rect x="1084" y="252" width="18" height="1" fill="#000"/>
<rect x="1108" y="252" width="18" height="1" fill="#000"/>
<rect x="1132" y="252" width="18" height="1" fill="#000"/>
<rect x="1156" y="252" width="18" height="1" fill="#000"/>
<rect x="1180" y="252" width="18" height="1" fill="#000"/>
<rect x="1204" y="252" width="18" height="1" fill="#000"/>
<rect x="1228" y="252" width="18" height="1" fill="#000"/>
<rect x="1252" y="252" width="18" height="1" fill="#000"/>
<rect x="1276" y="252" width="18" height="1" fill="#000"/>
<rect x="1300" y="252" width="18" height="1" fill="#000"/>
<rect x="1324" y="252" width="18" height="1" fill="#000"/>
<rect x="1348" y="252" width="18" height="1" fill="#000"/>
<rect x="1372" y="252" width="18" height="1" fill="#000"/>
<rect x="1396" y="252" width="18" height="1" fill="#000"/>
<rect x="1420" y="252" width="18" height="1" fill="#000"/>
<rect x="1444" y="252" width="18" height="1" fill="#000"/>
<rect x="1468" y="252" width="18" height="1" fill="#000"/>
<rect x="1492" y="252" width="18" height="1" fill="#000"/>
<rect x="1516" y="252" width="18" height="1" fill="#000"/>
<rect x="1540" y="252" width="18" height="1" fill="#000"/>
<rect x="1564" y="252" width="18" height="1" fill="#000"/>
<rect x="1588" y="252" width="18" height="1" fill="#000"/>
<rect x="1612" y="252" width="18" height="1" fill="#000"/>
<rect x="1636" y="252" width="18" height="1" fill="#000"/>
<rect x="1660" y="252" width="18" height="1" fill="#000"/>
<rect x="1684" y="252" width="18" height="1" fill="#000"/>
<rect x="1708" y="252" width="18" height="1" fill="#000"/>
<rect x="1732" y="252" width="18" height="1" fill="#000"/>
<rect x="1756" y="252" width="18" height="1" fill="#000"/>
<rect x="1780" y="252" width="18" height="1" fill="#000"/>
<rect x="1804" y="252" width="18" height="1" fill="#000"/>
<rect x="1828" y="252" width="18" height="1" fill="#000"/>
<rect x="1852" y="252" width="13" height="1" fill="#000"/>
<rect x="4" y="579" width="18" height="1" fill="#000"/>
<rect x="28" y="579" width="18" height="1" fill="#000"/>
<rect x="52" y="579" width="18" height="1" fill="#000"/>
<rect x="76" y="579" width="18" height="1" fill="#000"/>
<rect x="100" y="579" width="18" height="1" fill="#000"/>
<rect x="124" y="579" width="18" height="1" fill="#000"/>
<rect x="148" y="579" width="18" height="1" fill="#000"/>
<rect x="172" y="579" width="18" height="1" fill="#000"/>
<rect x="196" y="579" width="18" height="1" fill="#000"/>
<rect x="220" y="579" width="18" height="1" fill="#000"/>
<rect x="244" y="579" width="18" height="1" fill="#000"/>
<rect x="268" y="579" width="18" height="1" fill="#000"/>
<rect x="292" y="579" width="18" height="1" fill="#000"/>
<rect x="316" y="579" width="18" height="1" fill="#000"/>
<rect x="340" y="579" width="18" height="1" fill="#000"/>
<rect x="364" y="579" width="18" height="1" fill="#000"/>
<rect x="388" y="579" width="18" height="1" fill="#000"/>
<rect x="412" y="579" width="18" height="1" fill="#000"/>
<rect x="436" y="579" width="18" height="1" fill="#000"/>
<rect x="460" y="579" width="18" height="1" fill="#000"/>
<rect x="484" y="579" width="18" height="1" fill="#000"/>
<rect x="508" y="579" width="18" height="1" fill="#000"/>
<rect x="532" y="579" width="18" height="1" fill="#000"/>
<rect x="556" y="579" width="18" height="1" fill="#000"/>
<rect x="580" y="579" width="18" height="1" fill="#000"/>
<rect x="604" y="579" width="18" height="1" fill="#000"/>
<rect x="628" y="579" width="18" height="1" fill="#000"/>
<rect x="652" y="579" width="18" height="1" fill="#000"/>
<rect x="676" y="579" width="18" height="1" fill="#000"/>
<rect x="700" y="579" width="18" height="1" fill="#000"/>
<rect x="724" y="579" width="18" height="1" fill="#000"/>
<rect x="748" y="579" width="18" height="1" fill="#000"/>
<rect x="772" y="579" width="18" height="1" fill="#000"/>
<rect x="796" y="579" width="18" height="1" fill="#000"/>
<rect x="820" y="579" width="18" height="1" fill="#000"/>
<rect x="844" y="579" width="18" height="1" fill="#000"/>
<rect x="868" y="579" width="18" height="1" fill="#000"/>
<rect x="892" y="579" width="18" height="1" fill="#000"/>
<rect x="916" y="579" width="18" height="1" fill="#000"/>
<rect x="940" y="579" width="18" height="1" fill="#000"/>
<rect x="964" y="579" width="18" height="1" fill="#000"/>
<rect x="988" y="579" width="18" height="1" fill="#000"/>
<rect x="1012" y="579" width="18" height="1" fill="#000"/>
<rect x="1036" y="579" width="18" height="1" fill="#000"/>
<rect x="1060" y="579" width="18" height="1" fill="#000"/>
<rect x="1084" y="579" width="18" height="1" fill="#000"/>
<rect x="1108" y="579" width="18" height="1" fill="#000"/>
<rect x="1132" y="579" width="18" height="1" fill="#000"/>
<rect x="1156" y="579" width="18" height="1" fill="#000"/>
<rect x="1180" y="579" width="18" height="1" fill="#000"/>
<rect x="1204" y="579" width="18" height="1" fill="#000"/>
<rect x="1228" y="579" width="18" height="1" fill="#000"/>
<rect x="1252" y="579" width="18" height="1" fill="#000"/>
<rect x="1276" y="579" width="18" height="1" fill="#000"/>
<rect x="1300" y="579" width="18" height="1" fill="#000"/>
<rect x="1324" y="579" width="18" height="1" fill="#000"/>
<rect x="1348" y="579" width="18" height="1" fill="#000"/>
<rect x="1372" y="579" width="18" height="1" fill="#000"/>
<rect x="1396" y="579" width="18" height="1" fill="#000"/>
<rect x="1420" y="579" width="18" height="1" fill="#000"/>
<rect x="1444" y="579" width="18" height="1" fill="#000"/>
<rect x="1468" y="579" width="18" height="1" fill="#000"/>
<rect x="1492" y="579" width="18" height="1" fill="#000"/>
<rect x="1516" y="579" width="18" height="1" fill="#000"/>
<rect x="1540" y="579" width="18" height="1" fill="#000"/>
<rect x="1564" y="579" width="18" height="1" fill="#000"/>
<rect x="1588" y="579" width="18" height="1" fill="#000"/>
<rect x="1612" y="579" width="18" height="1" fill="#000"/>
<rect x="1636" y="579" width="18" height="1" fill="#000"/>
<rect x="1660" y="579" width="18" height="1" fill="#000"/>
<rect x="1684" y="579" width="18" height="1" fill="#000"/>
<rect x="1708" y="579" width="18" height="1" fill="#000"/>
<rect x="1732" y="579" width="18" height="1" fill="#000"/>
<rect x="1756" y="579" width="18" height="1" fill="#000"/>
<rect x="1780" y="579" width="18" height="1" fill="#000"/>
<rect x="1804" y="579" width="18" height="1" fill="#000"/>
<rect x="1828" y="579" width="18" height="1" fill="#000"/>
<rect x="1852" y="579" width="13" height="1" fill="#000"/>
</g>
<g shape-rendering="crispEdges" fill="#000">
<rect x="1252" y="164" width="1" height="37"/><rect x="1252" y="164" width="29" height="1"/>
<rect x="1556" y="342" width="1" height="46"/><rect x="1528" y="342" width="29" height="1"/>
<rect x="1412" y="590" width="1" height="55"/><rect x="1385" y="644" width="28" height="1"/>
</g>
<polyline points="4.0,893.1 12.0,890.0 20.0,884.5 37.0,867.3 53.5,855.0 60.0,852.6 68.0,839.7 76.0,826.8 84.0,817.9 92.0,816.3 100.0,813.0 108.0,812.4 116.0,809.6 124.0,811.5 132.0,813.5 140.0,814.4 156.0,814.8 164.0,812.6 172.0,819.8 180.0,825.0 188.0,828.6 196.0,827.1 204.0,827.3 212.0,827.7 220.0,828.8 232.0,828.8 244.0,823.9 252.0,813.2 260.0,810.0 268.0,800.8 276.0,790.7 286.6,779.6 296.0,772.3 301.0,765.6 307.0,757.5 316.0,738.9 332.0,706.6 340.0,694.3 348.0,685.3 356.0,682.0 364.0,677.0 372.0,674.0 383.0,673.7 388.0,671.6 396.0,665.2 404.0,663.1 412.0,662.7 424.0,660.8 428.0,662.0 436.0,662.2 444.0,663.9 452.0,648.0 460.0,629.7 468.0,610.0 476.0,593.5 484.0,578.7 492.0,560.3 501.0,540.0 524.0,504.6 532.0,485.2 540.0,470.5 548.0,455.2 564.0,454.8 572.0,457.0 580.0,454.8 588.0,447.4 596.0,443.7 612.0,437.3 620.0,435.4 628.0,433.6 636.0,423.5 652.0,403.3 658.6,390.0 663.8,376.5 668.0,370.0 676.3,351.4 689.0,336.4 692.0,333.0 700.0,328.4 708.0,316.4 716.0,294.3 724.0,270.3 732.0,244.5 740.0,223.3 748.0,202.1 756.0,187.4 760.5,180.0 780.0,145.5 796.0,104.9 812.0,68.6 820.0,77.3 836.0,112.3 844.0,139.0 854.4,180.0 863.6,215.0 883.6,290.0 892.0,319.5 900.0,350.8 908.0,376.6 916.0,405.2 924.0,414.8 933.3,413.9 940.0,417.6 948.0,417.6 956.0,412.6 964.0,415.0 974.0,414.8 980.0,410.7 988.0,408.0 1004.0,404.3 1020.0,401.9 1036.0,394.1 1042.3,390.0 1047.6,385.3 1060.0,373.5 1068.0,355.3 1076.0,342.2 1088.2,330.0 1092.0,326.6 1100.0,315.4 1108.0,305.0 1116.0,290.0 1124.0,280.7 1140.0,269.7 1156.0,256.8 1164.0,251.6 1172.0,250.3 1188.0,239.6 1196.0,232.3 1204.0,230.4 1212.0,225.4 1220.0,229.1 1228.0,229.5 1236.0,231.0 1244.0,228.2 1252.0,225.1 1260.0,225.1 1268.0,227.3 1276.0,227.6 1292.0,233.5 1300.0,238.7 1308.0,242.0 1316.0,252.2 1324.0,258.6 1340.0,269.1 1348.0,281.1 1356.0,296.8 1364.0,312.8 1372.0,328.5 1380.0,340.5 1388.0,351.8 1396.0,362.0 1404.0,374.2 1412.0,393.6 1420.0,410.2 1428.0,427.7 1436.0,451.7 1444.0,469.5 1452.0,479.3 1460.0,486.7 1468.0,495.0 1476.0,501.0 1484.0,509.3 1492.0,518.3 1500.0,526.2 1508.0,533.0 1516.0,527.5 1524.0,525.7 1532.0,519.3 1540.0,507.9 1548.0,495.7 1556.0,484.2 1564.0,475.9 1572.0,466.7 1580.0,465.2 1588.0,455.6 1596.0,449.5 1604.0,440.7 1612.0,437.6 1620.0,429.3 1628.0,421.0 1636.0,415.4 1644.0,414.9 1652.0,416.7 1660.0,421.3 1668.0,426.5 1676.0,433.9" fill="none" stroke="#3a7ab4" stroke-width="2" stroke-linejoin="round" shape-rendering="crispEdges"/>
<rect x="1280.5" y="148.5" width="99" height="31" fill="#fff" stroke="#000" stroke-width="1" shape-rendering="crispEdges"/>
<text class="big" x="1288" y="174" textLength="90.5" lengthAdjust="spacingAndGlyphs">1753.77</text>
<rect x="1429.5" y="326.5" width="99" height="31" fill="#fff" stroke="#000" stroke-width="1" shape-rendering="crispEdges"/>
<text class="big" x="1437" y="352" textLength="90.5" lengthAdjust="spacingAndGlyphs">1740.15</text>
<rect x="1285.5" y="628.5" width="99" height="31" fill="#fff" stroke="#000" stroke-width="1" shape-rendering="crispEdges"/>
<text class="big" x="1293" y="654" textLength="90.5" lengthAdjust="spacingAndGlyphs">1717.08</text>
<polyline points="4.0,777.0 28.6,784.7 52.0,793.6 68.0,799.7 76.0,800.0 92.0,808.3 108.0,816.6 116.0,820.3 124.0,821.8 140.0,829.5 148.0,832.9 164.0,834.7 180.0,835.6 204.0,836.0 212.0,837.1 220.0,840.0 232.0,841.8 244.0,841.8 255.0,839.2 268.0,838.6 284.0,833.6 300.0,829.0 316.0,823.0 325.0,818.3 348.0,803.6 372.0,790.5 396.0,778.7 405.0,774.8 420.0,765.3 428.0,762.3 444.0,754.8 457.0,742.6 472.0,729.7 495.7,710.0 524.0,692.0 540.0,679.2 556.0,663.5 567.6,652.4 585.0,636.1 606.5,616.4 628.0,597.8 646.0,577.8 656.7,562.7 674.6,537.7 710.4,501.9 728.3,476.8 746.2,451.7 767.7,423.1 789.1,394.4 807.0,367.6 819.6,353.3 824.0,350.0 836.0,340.6 844.0,336.1 848.9,333.9 863.6,328.4 868.0,325.9 884.0,318.0 916.0,316.7 924.0,313.4 956.0,309.4 980.0,307.5 1000.0,306.1 1020.0,303.4 1028.0,301.4 1040.0,300.3 1052.0,297.3 1060.0,294.6 1068.0,291.1 1080.0,289.9 1092.0,289.3 1116.0,290.0 1132.0,288.5 1142.6,286.8 1151.8,286.8 1164.0,290.0 1180.0,295.9 1196.0,300.1 1204.0,304.7 1220.0,310.2 1236.0,316.7 1250.4,322.6 1262.4,322.6 1271.6,319.8 1276.0,319.4 1292.0,311.9 1308.0,306.0 1324.0,301.4 1340.0,298.1 1356.0,298.1 1372.0,300.5 1407.8,300.8 1420.0,305.1 1436.0,311.2 1459.0,317.9 1478.6,327.0 1492.0,333.6 1507.9,342.2 1528.0,351.5 1548.0,357.7 1564.0,363.8 1580.0,372.3 1596.0,378.0 1612.0,385.9 1628.0,393.3 1636.0,397.6 1652.0,402.9 1668.0,411.2 1676.0,415.8" fill="none" stroke="#ff0000" stroke-width="2" stroke-linejoin="round" shape-rendering="crispEdges"/>
<g shape-rendering="crispEdges" fill="#000">
<rect x="4" y="4" width="1862" height="1"/>
<rect x="4" y="4" width="1" height="896"/>
<rect x="1865" y="4" width="1" height="896"/>
<rect x="4" y="899" width="1862" height="1"/>
<rect x="4" y="900" width="1" height="4"/>
<rect x="68" y="900" width="1" height="4"/>
<rect x="132" y="900" width="1" height="4"/>
<rect x="196" y="900" width="1" height="4"/>
<rect x="260" y="900" width="1" height="4"/>
<rect x="324" y="900" width="1" height="4"/>
<rect x="388" y="900" width="1" height="4"/>
<rect x="452" y="900" width="1" height="4"/>
<rect x="516" y="900" width="1" height="4"/>
<rect x="580" y="900" width="1" height="4"/>
<rect x="644" y="900" width="1" height="4"/>
<rect x="708" y="900" width="1" height="4"/>
<rect x="772" y="900" width="1" height="4"/>
<rect x="836" y="900" width="1" height="4"/>
<rect x="900" y="900" width="1" height="4"/>
<rect x="964" y="900" width="1" height="4"/>
<rect x="1028" y="900" width="1" height="4"/>
<rect x="1092" y="900" width="1" height="4"/>
<rect x="1156" y="900" width="1" height="4"/>
<rect x="1220" y="900" width="1" height="4"/>
<rect x="1284" y="900" width="1" height="4"/>
<rect x="1348" y="900" width="1" height="4"/>
<rect x="1412" y="900" width="1" height="4"/>
<rect x="1476" y="900" width="1" height="4"/>
<rect x="1540" y="900" width="1" height="4"/>
<rect x="1604" y="900" width="1" height="4"/>
<rect x="1668" y="900" width="1" height="4"/>
<rect x="1866" y="34" width="4" height="1"/>
<rect x="1866" y="66" width="4" height="1"/>
<rect x="1866" y="98" width="4" height="1"/>
<rect x="1866" y="130" width="4" height="1"/>
<rect x="1866" y="162" width="4" height="1"/>
<rect x="1866" y="194" width="4" height="1"/>
<rect x="1866" y="226" width="4" height="1"/>
<rect x="1866" y="258" width="4" height="1"/>
<rect x="1866" y="290" width="4" height="1"/>
<rect x="1866" y="322" width="4" height="1"/>
<rect x="1866" y="354" width="4" height="1"/>
<rect x="1866" y="386" width="4" height="1"/>
<rect x="1866" y="418" width="4" height="1"/>
<rect x="1866" y="450" width="4" height="1"/>
<rect x="1866" y="482" width="4" height="1"/>
<rect x="1866" y="514" width="4" height="1"/>
<rect x="1866" y="546" width="4" height="1"/>
<rect x="1866" y="578" width="4" height="1"/>
<rect x="1866" y="610" width="4" height="1"/>
<rect x="1866" y="642" width="4" height="1"/>
<rect x="1866" y="675" width="4" height="1"/>
<rect x="1866" y="707" width="4" height="1"/>
<rect x="1866" y="739" width="4" height="1"/>
<rect x="1866" y="771" width="4" height="1"/>
<rect x="1866" y="803" width="4" height="1"/>
<rect x="1866" y="835" width="4" height="1"/>
<rect x="1866" y="867" width="4" height="1"/>
</g>
<polygon points="1671.5,5 1681.5,5 1676.5,10" fill="#bdbdbd"/>
<g style="will-change:opacity;opacity:.999">
<text class="ax" x="1871.5" y="38" textLength="31.5" lengthAdjust="spacingAndGlyphs">1763.71</text>
<text class="ax" x="1871.5" y="70" textLength="31.5" lengthAdjust="spacingAndGlyphs">1761.26</text>
<text class="ax" x="1871.5" y="102" textLength="31.5" lengthAdjust="spacingAndGlyphs">1758.81</text>
<text class="ax" x="1871.5" y="134" textLength="31.5" lengthAdjust="spacingAndGlyphs">1756.36</text>
<text class="ax" x="1871.5" y="166" textLength="31.5" lengthAdjust="spacingAndGlyphs">1753.91</text>
<text class="ax" x="1871.5" y="198" textLength="31.5" lengthAdjust="spacingAndGlyphs">1751.46</text>
<text class="ax" x="1871.5" y="230" textLength="31.5" lengthAdjust="spacingAndGlyphs">1749.01</text>
<text class="ax" x="1871.5" y="262" textLength="31.5" lengthAdjust="spacingAndGlyphs">1746.56</text>
<text class="ax" x="1871.5" y="294" textLength="31.5" lengthAdjust="spacingAndGlyphs">1744.11</text>
<text class="ax" x="1871.5" y="326" textLength="31.5" lengthAdjust="spacingAndGlyphs">1741.66</text>
<text class="ax" x="1871.5" y="358" textLength="31.5" lengthAdjust="spacingAndGlyphs">1739.21</text>
<text class="ax" x="1871.5" y="390" textLength="31.5" lengthAdjust="spacingAndGlyphs">1736.76</text>
<text class="ax" x="1871.5" y="422" textLength="31.5" lengthAdjust="spacingAndGlyphs">1734.31</text>
<text class="ax" x="1871.5" y="454" textLength="31.5" lengthAdjust="spacingAndGlyphs">1731.86</text>
<text class="ax" x="1871.5" y="486" textLength="31.5" lengthAdjust="spacingAndGlyphs">1729.41</text>
<text class="ax" x="1871.5" y="518" textLength="31.5" lengthAdjust="spacingAndGlyphs">1726.96</text>
<text class="ax" x="1871.5" y="550" textLength="31.5" lengthAdjust="spacingAndGlyphs">1724.51</text>
<text class="ax" x="1871.5" y="614" textLength="31.5" lengthAdjust="spacingAndGlyphs">1719.61</text>
<text class="ax" x="1871.5" y="646" textLength="31.5" lengthAdjust="spacingAndGlyphs">1717.16</text>
<text class="ax" x="1871.5" y="679" textLength="31.5" lengthAdjust="spacingAndGlyphs">1714.71</text>
<text class="ax" x="1871.5" y="711" textLength="31.5" lengthAdjust="spacingAndGlyphs">1712.26</text>
<text class="ax" x="1871.5" y="743" textLength="31.5" lengthAdjust="spacingAndGlyphs">1709.81</text>
<text class="ax" x="1871.5" y="775" textLength="31.5" lengthAdjust="spacingAndGlyphs">1707.36</text>
<text class="ax" x="1871.5" y="807" textLength="31.5" lengthAdjust="spacingAndGlyphs">1704.91</text>
<text class="ax" x="1871.5" y="839" textLength="31.5" lengthAdjust="spacingAndGlyphs">1702.46</text>
<text class="ax" x="1871.5" y="871" textLength="31.5" lengthAdjust="spacingAndGlyphs">1700.01</text>
<rect x="1868" y="247" width="39" height="11" fill="#000" shape-rendering="crispEdges"/>
<text class="ax" x="1871.5" y="256" textLength="31.5" lengthAdjust="spacingAndGlyphs" style="fill:#fff;stroke:#fff">1747.00</text>
<rect x="1868" y="574" width="39" height="11" fill="#000" shape-rendering="crispEdges"/>
<text class="ax" x="1871.5" y="583" textLength="31.5" lengthAdjust="spacingAndGlyphs" style="fill:#fff;stroke:#fff">1722.00</text>
<rect x="1868" y="492" width="39" height="11" fill="#dc143c" shape-rendering="crispEdges"/>
<text class="ax" x="1871.5" y="501" textLength="31.5" lengthAdjust="spacingAndGlyphs" style="fill:#fff;stroke:#fff">1728.28</text>
<rect x="1868" y="499" width="39" height="11" fill="#a9a9a9" shape-rendering="crispEdges"/>
<text class="ax" x="1871.5" y="508" textLength="31.5" lengthAdjust="spacingAndGlyphs" style="fill:#fff;stroke:#fff">1727.78</text>
<text class="ax" x="4.3" y="912" textLength="54.5" lengthAdjust="spacingAndGlyphs" style="font-size:9.8px">12 May 2020</text>
<text class="ax" x="68.3" y="912" textLength="57" lengthAdjust="spacingAndGlyphs" style="font-size:9.8px">12 May 21:00</text>
<text class="ax" x="132.3" y="912" textLength="57" lengthAdjust="spacingAndGlyphs" style="font-size:9.8px">13 May 05:00</text>
<text class="ax" x="196.3" y="912" textLength="57" lengthAdjust="spacingAndGlyphs" style="font-size:9.8px">13 May 13:00</text>
<text class="ax" x="260.3" y="912" textLength="57" lengthAdjust="spacingAndGlyphs" style="font-size:9.8px">13 May 21:00</text>
<text class="ax" x="324.3" y="912" textLength="57" lengthAdjust="spacingAndGlyphs" style="font-size:9.8px">14 May 05:00</text>
<text class="ax" x="388.3" y="912" textLength="57" lengthAdjust="spacingAndGlyphs" style="font-size:9.8px">14 May 13:00</text>
<text class="ax" x="452.3" y="912" textLength="57" lengthAdjust="spacingAndGlyphs" style="font-size:9.8px">14 May 21:00</text>
<text class="ax" x="516.3" y="912" textLength="57" lengthAdjust="spacingAndGlyphs" style="font-size:9.8px">15 May 05:00</text>
<text class="ax" x="580.3" y="912" textLength="57" lengthAdjust="spacingAndGlyphs" style="font-size:9.8px">15 May 13:00</text>
<text class="ax" x="644.3" y="912" textLength="57" lengthAdjust="spacingAndGlyphs" style="font-size:9.8px">15 May 21:00</text>
<text class="ax" x="708.3" y="912" textLength="57" lengthAdjust="spacingAndGlyphs" style="font-size:9.8px">18 May 06:00</text>
<text class="ax" x="772.3" y="912" textLength="57" lengthAdjust="spacingAndGlyphs" style="font-size:9.8px">18 May 14:00</text>
<text class="ax" x="836.3" y="912" textLength="57" lengthAdjust="spacingAndGlyphs" style="font-size:9.8px">18 May 22:00</text>
<text class="ax" x="900.3" y="912" textLength="57" lengthAdjust="spacingAndGlyphs" style="font-size:9.8px">19 May 06:00</text>
<text class="ax" x="964.3" y="912" textLength="57" lengthAdjust="spacingAndGlyphs" style="font-size:9.8px">19 May 14:00</text>
<text class="ax" x="1028.3" y="912" textLength="57" lengthAdjust="spacingAndGlyphs" style="font-size:9.8px">19 May 22:00</text>
<text class="ax" x="1092.3" y="912" textLength="57" lengthAdjust="spacingAndGlyphs" style="font-size:9.8px">20 May 06:00</text>
<text class="ax" x="1156.3" y="912" textLength="57" lengthAdjust="spacingAndGlyphs" style="font-size:9.8px">20 May 14:00</text>
<text class="ax" x="1220.3" y="912" textLength="57" lengthAdjust="spacingAndGlyphs" style="font-size:9.8px">20 May 22:00</text>
<text class="ax" x="1284.3" y="912" textLength="57" lengthAdjust="spacingAndGlyphs" style="font-size:9.8px">21 May 06:00</text>
<text class="ax" x="1348.3" y="912" textLength="57" lengthAdjust="spacingAndGlyphs" style="font-size:9.8px">21 May 14:00</text>
<text class="ax" x="1412.3" y="912" textLength="57" lengthAdjust="spacingAndGlyphs" style="font-size:9.8px">21 May 22:00</text>
<text class="ax" x="1476.3" y="912" textLength="57" lengthAdjust="spacingAndGlyphs" style="font-size:9.8px">22 May 06:00</text>
<text class="ax" x="1540.3" y="912" textLength="57" lengthAdjust="spacingAndGlyphs" style="font-size:9.8px">22 May 14:00</text>
<text class="ax" x="1604.3" y="912" textLength="57" lengthAdjust="spacingAndGlyphs" style="font-size:9.8px">22 May 22:00</text>
<text class="ax" x="1668.3" y="912" textLength="57" lengthAdjust="spacingAndGlyphs" style="font-size:9.8px">25 May 07:00</text>
<text x="46" y="18" style="font-size:9.8px" textLength="36" lengthAdjust="spacingAndGlyphs">Gold, H1</text>
</g>
<g shape-rendering="crispEdges">
<rect x="8.5" y="8.5" width="14" height="12" rx="1" fill="#fff" stroke="#6a6a6a" shape-rendering="auto"/>
<rect x="9" y="8" width="13" height="2" fill="#7a7aff"/>
<rect x="10" y="12" width="5" height="1" fill="#f07878"/>
<rect x="16" y="12" width="5" height="1" fill="#7878ff"/>
<rect x="10" y="14" width="5" height="1" fill="#f07878"/>
<rect x="16" y="14" width="5" height="1" fill="#7878ff"/>
<rect x="10" y="16" width="5" height="1" fill="#f07878"/>
<rect x="16" y="16" width="5" height="1" fill="#7878ff"/>
<rect x="10" y="18" width="5" height="1" fill="#f07878"/>
<rect x="16" y="18" width="5" height="1" fill="#7878ff"/>
<path d="M25 9h4v5h3v6h-7z" fill="#2a3cf0"/>
<path d="M36 9h4v11h-7v-6h3z" fill="#d23a3a"/>
<rect x="30" y="9" width="5" height="1" fill="#777"/><rect x="30" y="11" width="5" height="1" fill="#777"/>
<rect x="26" y="18" width="5" height="1" fill="#8b96ff"/><rect x="34" y="18" width="5" height="1" fill="#f09a9a"/>
</g>
</svg>
</body></html>
